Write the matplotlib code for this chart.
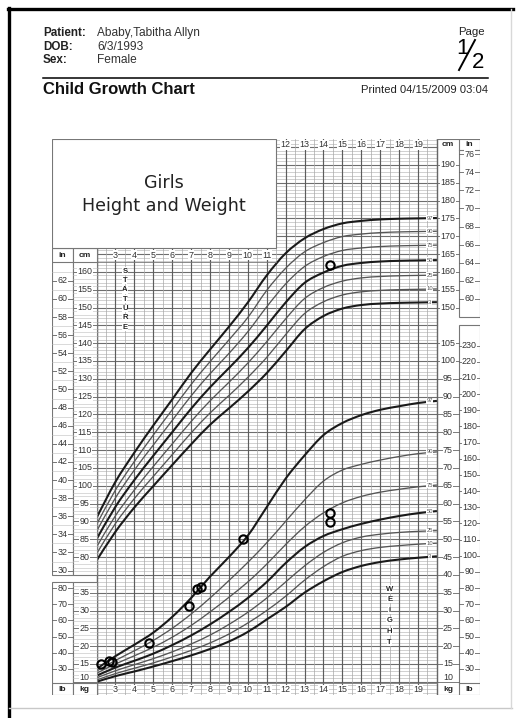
import numpy as np
import matplotlib
matplotlib.use("Agg")
import matplotlib.pyplot as plt
from matplotlib.path import Path
from matplotlib.patches import PathPatch, Rectangle

# ---- data ----
ages = list(range(2, 21))

stat_p3 = [79.0, 87.1, 93.9, 99.9, 105.8, 111.6, 117.1, 121.7, 126.4, 131.6, 137.7, 143.9, 147.6, 149.7, 150.7, 151.1, 151.3, 151.4, 151.5]
stat_p10 = [80.9, 89.4, 96.4, 102.6, 108.7, 114.8, 120.4, 125.3, 130.4, 136.0, 142.4, 148.3, 151.6, 153.5, 154.4, 154.8, 155.0, 155.1, 155.2]
stat_p25 = [82.8, 91.6, 98.8, 105.4, 111.7, 118.0, 123.8, 129.0, 134.4, 140.4, 146.8, 152.5, 155.6, 157.4, 158.3, 158.7, 158.9, 159.0, 159.1]
stat_p50 = [85.0, 94.1, 101.6, 108.4, 115.0, 121.6, 127.6, 133.0, 138.6, 144.9, 151.4, 156.9, 159.8, 161.7, 162.5, 162.9, 163.1, 163.2, 163.3]
stat_p75 = [87.2, 96.6, 104.4, 111.4, 118.3, 125.2, 131.4, 137.1, 143.2, 150.2, 156.6, 161.5, 164.3, 166.0, 166.7, 167.1, 167.3, 167.4, 167.5]
stat_p90 = [89.1, 98.8, 106.8, 114.2, 121.3, 128.4, 134.8, 140.9, 147.2, 154.8, 161.0, 165.6, 168.2, 169.9, 170.6, 171.0, 171.2, 171.3, 171.4]
stat_p97 = [91.0, 101.1, 109.3, 116.9, 124.2, 131.6, 138.2, 144.6, 151.4, 159.0, 165.2, 169.4, 172.0, 173.6, 174.3, 174.7, 174.9, 175.0, 175.1]

wt_p3 = [10.0, 11.6, 12.9, 14.3, 15.8, 17.4, 19.2, 21.3, 24.0, 27.5, 31.0, 35.0, 38.2, 40.8, 42.5, 43.6, 44.3, 44.8, 45.2]
wt_p10 = [10.5, 12.3, 13.8, 15.3, 17.0, 18.8, 20.9, 23.4, 26.5, 30.0, 34.0, 38.5, 42.3, 45.2, 46.8, 47.7, 48.2, 48.6, 48.9]
wt_p25 = [11.1, 13.1, 14.8, 16.5, 18.4, 20.6, 23.1, 26.1, 29.5, 33.5, 38.0, 42.5, 46.3, 49.0, 50.6, 51.4, 51.9, 52.2, 52.4]
wt_p50 = [11.7, 14.0, 15.9, 17.9, 20.3, 23.0, 26.1, 29.6, 33.5, 38.0, 43.3, 47.8, 50.9, 52.8, 54.3, 55.5, 56.5, 57.3, 57.9]
wt_p75 = [12.4, 15.0, 17.3, 19.7, 22.5, 25.8, 29.6, 33.7, 38.0, 43.0, 48.5, 53.5, 57.4, 60.2, 62.0, 63.2, 64.0, 64.7, 65.2]
wt_p90 = [13.0, 16.0, 18.7, 21.6, 25.0, 29.0, 33.5, 38.4, 43.5, 49.0, 55.0, 61.0, 66.3, 69.4, 71.0, 72.2, 73.2, 74.0, 74.5]
wt_p97 = [13.6, 17.2, 20.4, 23.8, 28.2, 33.5, 39.5, 45.0, 51.0, 59.0, 67.0, 73.5, 79.2, 82.6, 84.8, 86.3, 87.3, 88.2, 88.8]

pct_labels = ["3", "10", "25", "50", "75", "90", "97"]

pt_ht_age = [14.35]
pt_ht_cm = [161.8]
pt_wt_age = [2.24, 2.68, 2.80, 4.79, 6.91, 7.30, 7.53, 9.72, 14.35, 14.35]
pt_wt_kg = [15.0, 15.9, 15.5, 20.8, 31.4, 36.0, 36.5, 50.0, 57.3, 54.9]

KG_OFFSET = 35  # kg scale sits 35 units below the cm scale on the shared axis

# ---- figure ----
fig = plt.figure(figsize=(5.16, 7.18), dpi=100)
page = fig.add_axes([0, 0, 1, 1])
page.set_xlim(0, 516)
page.set_ylim(718, 0)
page.axis("off")

FONT = "Liberation Sans"

# page frame
page.plot([9, 9], [8, 718], color="black", lw=2.4)
page.plot([8, 513], [9, 9], color="black", lw=2.4)
page.plot([9, 512], [708, 708], color="#c8c8c8", lw=1.0)
page.plot([511, 511], [9, 708], color="#d8d8d8", lw=1.0)

# header
for y, lab, val in [(33, "Patient:", "Ababy,Tabitha Allyn"), (47, "DOB:", "6/3/1993"), (60, "Sex:", "Female")]:
    page.text(43, y, lab, family=FONT, fontsize=8.4, fontweight="bold", va="center", color="#222")
    page.text(97, y, val, family=FONT, fontsize=8.6, va="center", color="#333")
page.text(471, 32, "Page", family=FONT, fontsize=8.2, ha="center", va="center", color="#222")
page.text(462, 48, "1", family=FONT, fontsize=16, ha="center", va="center", color="black")
page.text(478, 62, "2", family=FONT, fontsize=16, ha="center", va="center", color="black")
page.plot([459, 475], [70, 40], color="black", lw=1.4)
page.plot([43, 488], [77.5, 77.5], color="black", lw=1.1)
page.text(43, 90, "Child Growth Chart", family=FONT, fontsize=12, fontweight="bold", va="center", color="#111")
page.text(488, 90, "Printed 04/15/2009 03:04", family=FONT, fontsize=8.1, ha="right", va="center", color="#222")

# ---- chart axes: x = age (yr), y = stature (cm); weight drawn at kg + 35 ----
x_in0, x_cm0, x_g0, x_g1, x_cmr, x_inr = -0.355, 0.757, 2.0, 20.0, 21.17, 22.28
y_bot, y_top = 41.3, 197.27
ax = fig.add_axes([52 / 516, 1 - 695 / 718, 428 / 516, 556 / 718])
ax.set_xlim(x_in0, x_inr)
ax.set_ylim(y_bot, y_top)
ax.axis("off")

grid_minor = "#bdbdbd"
grid_major = "#6e6e6e"

# horizontal grid
for v in range(42, 198):
    major = v % 5 == 0
    ax.plot([x_g0, x_g1], [v, v], color=grid_major if major else grid_minor,
            lw=0.8 if major else 0.5, zorder=1)
# vertical grid
for a in np.arange(2, 20.01, 0.5):
    major = float(a).is_integer()
    ax.plot([a, a], [y_bot, y_top], color="#5c5c5c" if major else "#a8a8a8",
            lw=0.85 if major else 0.5, zorder=1.1)
ax.plot([x_g0, x_g0], [y_bot, y_top], color="#666", lw=0.9, zorder=1.2)
ax.plot([x_g1, x_g1], [y_bot, y_top], color="#666", lw=0.9, zorder=1.2)


def smooth(xs, ys):
    pts = np.column_stack([xs, ys]).astype(float)
    verts = [pts[0]]
    codes = [Path.MOVETO]
    n = len(pts)
    for i in range(n - 1):
        p0 = pts[i - 1] if i > 0 else pts[i]
        p1, p2 = pts[i], pts[i + 1]
        p3 = pts[i + 2] if i + 2 < n else pts[i + 1]
        verts += [p1 + (p2 - p0) / 6, p2 - (p3 - p1) / 6, p2]
        codes += [Path.CURVE4] * 3
    return Path(verts, codes)


stat_sets = [stat_p3, stat_p10, stat_p25, stat_p50, stat_p75, stat_p90, stat_p97]
wt_sets = [wt_p3, wt_p10, wt_p25, wt_p50, wt_p75, wt_p90, wt_p97]
for lab, s, w in zip(pct_labels, stat_sets, wt_sets):
    heavy = lab in ("3", "50", "97")
    col = "#1a1a1a" if heavy else "#555555"
    lw = 1.5 if heavy else 0.95
    ax.add_patch(PathPatch(smooth(ages, s), fill=False, ec=col, lw=lw, zorder=3))
    ax.add_patch(PathPatch(smooth(ages, np.array(w) + KG_OFFSET), fill=False, ec=col, lw=lw, zorder=3))
    for yv in (s[-1], w[-1] + KG_OFFSET):
        ax.text(19.62, yv, lab, fontsize=4.2, family=FONT, color="#555", ha="center", va="center",
                zorder=4, bbox=dict(fc="white", ec="none", pad=0.2))

# patient points
ax.plot(pt_ht_age, pt_ht_cm, "o", mfc="none", mec="black", ms=6, mew=1.5, zorder=6)
ax.plot(pt_wt_age, np.array(pt_wt_kg) + KG_OFFSET, "o", mfc="none", mec="black", ms=6, mew=1.5, zorder=6)

# ---- title box (covers the upper-left of the grid) ----
box_r, box_b = 11.5, 166.7
ax.add_patch(Rectangle((x_in0, box_b), box_r - x_in0, y_top - box_b, fc="white", ec="#777", lw=0.8, zorder=7))
ax.text((x_in0 + box_r) / 2, 185.0, "Girls", family="DejaVu Sans", fontsize=12.6, ha="center", va="center",
        color="#222", zorder=8)
ax.text((x_in0 + box_r) / 2, 178.5, "Height and Weight", family="DejaVu Sans", fontsize=12.6, ha="center",
        va="center", color="#222", zorder=8)

lab_kw = dict(family=FONT, fontsize=6.4, color="#333", ha="center", va="center", zorder=9,
              bbox=dict(fc="white", ec="none", pad=0.25))
head_kw = dict(family=FONT, fontsize=6.0, color="#222", fontweight="bold", ha="center", va="center", zorder=9)
col_line = "#777"
row_y = 42.8  # centre of the bottom label row


def column(x0, x1, y0, y1):
    ax.add_patch(Rectangle((x0, y0), x1 - x0, y1 - y0, fc="white", ec=col_line, lw=0.8, zorder=5))


def kg_label_y(kg):
    # the lowest kg label sits a little higher, just clear of the bottom row
    return kg + KG_OFFSET + (1.2 if kg == 10 else 0)


# left stature columns
column(x_in0, x_cm0, 75.0, box_b)
column(x_cm0, x_g0, 75.0, box_b)
ax.plot([x_in0, x_g0], [162.8, 162.8], color=col_line, lw=0.8, zorder=6)
ax.text((x_in0 + x_cm0) / 2, 164.7, "in", **head_kw)
ax.text((x_cm0 + x_g0) / 2, 164.7, "cm", **head_kw)
for v in range(76, 162):
    ax.plot([x_cm0, x_g0], [v, v], color=grid_minor, lw=0.4, zorder=5.5)
for inch in range(30, 64):
    ax.plot([x_in0, x_cm0], [inch * 2.54] * 2, color=grid_minor, lw=0.4, zorder=5.5)
for cm in range(80, 161, 5):
    ax.plot([x_cm0, x_g0], [cm, cm], color="#666", lw=0.6, zorder=5.6)
    ax.text((x_cm0 + x_g0) / 2, cm, str(cm), **lab_kw)
for inch in range(30, 63, 2):
    ax.plot([x_in0, x_cm0], [inch * 2.54] * 2, color="#666", lw=0.6, zorder=5.6)
    ax.text((x_in0 + x_cm0) / 2, inch * 2.54, str(inch), **lab_kw)
for a in range(3, 12):
    ax.text(a, 164.7, str(a), **lab_kw)
ax.plot([x_g0, box_r], [162.8, 162.8], color="#777", lw=0.6, zorder=6)

# STATURE letters
for i, ch in enumerate("STATURE"):
    ax.text(3.5, 160.2 - i * 2.62, ch, family=FONT, fontsize=5.5, fontweight="bold", color="#222",
            ha="center", va="center", zorder=9, bbox=dict(fc="white", ec="none", pad=0.15))

# left weight columns
row_top = 44.7
column(x_in0, x_cm0, y_bot, 73.0)
column(x_cm0, x_g0, y_bot, 73.0)
ax.plot([x_in0, x_g0], [row_top, row_top], color=col_line, lw=0.8, zorder=6)
ax.text((x_in0 + x_cm0) / 2, row_y, "lb", **head_kw)
ax.text((x_cm0 + x_g0) / 2, row_y, "kg", **head_kw)
for v in range(45, 73):
    ax.plot([x_cm0, x_g0], [v, v], color=grid_minor, lw=0.4, zorder=5.5)
for kg in range(10, 36, 5):
    ax.plot([x_cm0, x_g0], [kg + KG_OFFSET] * 2, color="#666", lw=0.6, zorder=5.6)
    ax.text((x_cm0 + x_g0) / 2, kg_label_y(kg), str(kg), **lab_kw)
for lb in range(30, 81, 10):
    ax.plot([x_in0, x_cm0], [lb / 2.2046 + KG_OFFSET] * 2, color="#666", lw=0.6, zorder=5.6)
    ax.text((x_in0 + x_cm0) / 2, lb / 2.2046 + KG_OFFSET, str(lb), **lab_kw)

# bottom age row
for a in range(3, 20):
    ax.text(a, row_y, str(a), **lab_kw)
ax.plot([x_g0, x_g1], [row_top, row_top], color="#777", lw=0.6, zorder=2)

# top age row (right of the title box)
for a in range(12, 20):
    ax.text(a, 195.6, str(a), **lab_kw)

# right columns: cm / kg scale and in / lb boxes
column(x_cmr, x_inr, 147.3, y_top)
column(x_cmr, x_inr, y_bot, 145.1)
ax.plot([x_g1, x_cmr], [y_top, y_top], color=col_line, lw=0.8, zorder=6)
ax.plot([x_g1, x_cmr], [y_bot, y_bot], color=col_line, lw=0.8, zorder=6)
ax.text((x_g1 + x_cmr) / 2, 195.6, "cm", **head_kw)
ax.text((x_cmr + x_inr) / 2, 195.6, "in", **head_kw)
ax.text((x_g1 + x_cmr) / 2, row_y, "kg", **head_kw)
ax.text((x_cmr + x_inr) / 2, row_y, "lb", **head_kw)
ax.plot([x_cmr, x_inr], [194.2, 194.2], color=col_line, lw=0.8, zorder=6)
ax.plot([x_cmr, x_inr], [row_top, row_top], color=col_line, lw=0.8, zorder=6)
for cm in range(150, 191, 5):
    ax.plot([x_g1, x_cmr], [cm, cm], color="#666", lw=0.6, zorder=5.6)
    ax.text((x_g1 + x_cmr) / 2, cm, str(cm), **lab_kw)
for kg in range(10, 106, 5):
    ax.plot([x_g1, x_cmr], [kg + KG_OFFSET] * 2, color="#666", lw=0.6, zorder=5.6)
    ax.text((x_g1 + x_cmr) / 2, kg_label_y(kg), str(kg), **lab_kw)
for inch in range(60, 77, 2):
    ax.plot([x_cmr, x_inr], [inch * 2.54] * 2, color="#666", lw=0.6, zorder=5.6)
    ax.text((x_cmr + x_inr) / 2, inch * 2.54, str(inch), **lab_kw)
for lb in range(30, 231, 10):
    ax.plot([x_cmr, x_inr], [lb / 2.2046 + KG_OFFSET] * 2, color="#666", lw=0.6, zorder=5.6)
    ax.text((x_cmr + x_inr) / 2, lb / 2.2046 + KG_OFFSET, str(lb), **lab_kw)

# WEIGHT letters
for i, ch in enumerate("WEIGHT"):
    ax.text(17.5, 71.0 - i * 2.98, ch, family=FONT, fontsize=5.5, fontweight="bold", color="#222",
            ha="center", va="center", zorder=9, bbox=dict(fc="white", ec="none", pad=0.15))

fig.savefig("out.png", dpi=100)
